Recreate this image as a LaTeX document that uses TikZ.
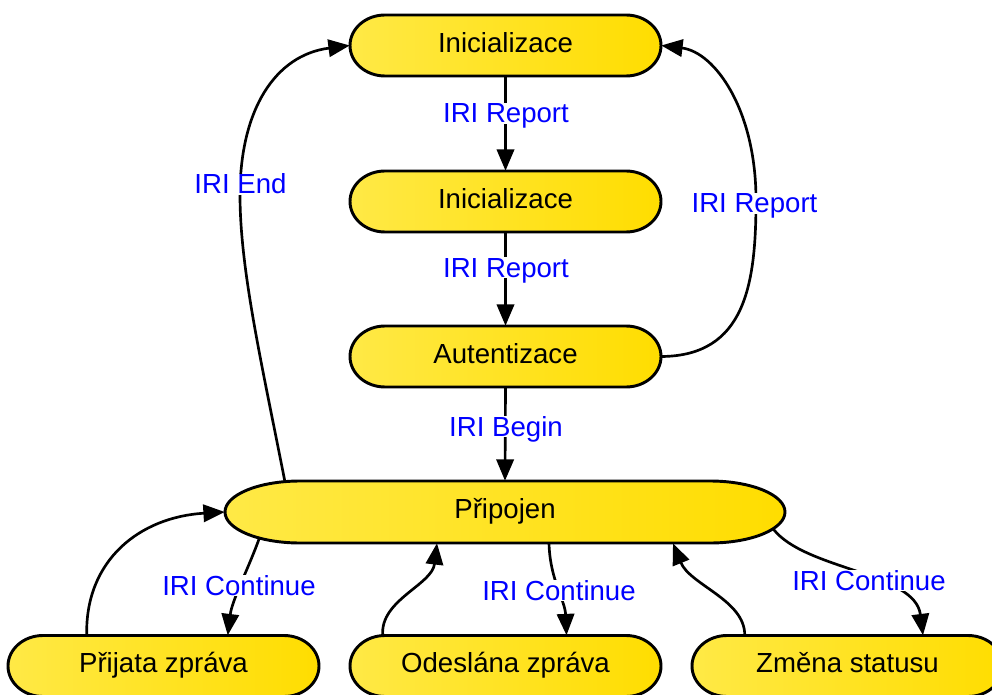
\documentclass[tikz,border=0pt]{standalone}
\usepackage{fontspec}
\setmainfont{Liberation Sans}
\usetikzlibrary{arrows.meta}

\definecolor{stateL}{RGB}{255,233,70}
\definecolor{stateR}{RGB}{255,221,0}
\definecolor{edgelabel}{RGB}{0,0,255}

\tikzset{
  statetext/.style={shape=rectangle, inner sep=0pt, text=black,
    font=\fontsize{20.7}{24}\selectfont, text height=14.8pt, text depth=5pt},
  labeltext/.style={shape=rectangle, inner xsep=0.5pt, inner ysep=0.4pt, fill=white,
    text=edgelabel, anchor=base,
    font=\fontsize{20.7}{24}\selectfont, text height=14.8pt, text depth=0pt},
  stateoutline/.style={draw=black, line width=2.2pt, left color=stateL, right color=stateR},
  flow/.style={draw=black, line width=2pt, -{Triangle[length=16pt,width=13pt]}},
}

% #1 name, #2 centre x, #3 centre y, #4 width, #5 height, #6 cap length, #7 text
\newcommand\statenode[7]{%
  \path[stateoutline]
    ({#2-#4/2+#6},{#3-#5/2}) -- ({#2+#4/2-#6},{#3-#5/2})
    .. controls ({#2+#4/2-#6+0.5523*#6},{#3-#5/2}) and ({#2+#4/2},{#3-0.5523*#5/2}) .. ({#2+#4/2},#3)
    .. controls ({#2+#4/2},{#3+0.5523*#5/2}) and ({#2+#4/2-#6+0.5523*#6},{#3+#5/2}) .. ({#2+#4/2-#6},{#3+#5/2})
    -- ({#2-#4/2+#6},{#3+#5/2})
    .. controls ({#2-#4/2+#6-0.5523*#6},{#3+#5/2}) and ({#2-#4/2},{#3+0.5523*#5/2}) .. ({#2-#4/2},#3)
    .. controls ({#2-#4/2},{#3-0.5523*#5/2}) and ({#2-#4/2+#6-0.5523*#6},{#3-#5/2}) .. cycle;
  \node[statetext, minimum width={#4*0.75pt}, minimum height={#5*0.75pt}] (#1) at (#2,#3) {#7};
}

\begin{document}
\begin{tikzpicture}[x=0.75pt, y=-0.75pt]
  \useasboundingbox (0,0) rectangle (992,695);
  \clip (0,0) rectangle (992,695);

  % states
  \statenode{init}{505.5}{45.5}{311}{61}{35}{Inicializace}
  \statenode{initb}{505.5}{201.5}{311}{61}{35}{Inicializace}
  \statenode{auth}{505.5}{356.5}{311}{61}{35}{Autentizace}
  \statenode{conn}{505}{512}{560}{62}{75}{Připojen}
  \statenode{recv}{163.5}{666}{311}{61}{35}{Přijata zpráva}
  \statenode{sent}{505.5}{666}{311}{61}{35}{Odeslána zpráva}
  \statenode{stat}{847.5}{666}{311}{61}{35}{Změna statusu}

  % transitions
  \draw[flow] (init.south) -- (initb.north);
  \draw[flow] (initb.south) -- (auth.north);
  \draw[flow] (auth.south) -- (conn.north);
  \draw[flow] (auth.east) .. controls (745,356) and (756,285) .. (756,200)
                          .. controls (756,110) and (715,52) .. (init.east);
  \draw[flow] ([shift={(60,0)}]conn.north west) .. controls (262,365) and (240,270) .. (240,195)
                          .. controls (240,110) and (275,55) .. (init.west);
  \draw[flow] ([shift={(79,0)}]recv.north west) .. controls (85,560) and (140,517) .. (conn.west);
  \draw[flow] ([shift={(35,25)}]conn.west) .. controls (250,565) and (232,600) .. ([shift={(220,0)}]recv.north west);
  \draw[flow] ([shift={(33,0)}]sent.north west) .. controls (380,600) and (432,585) .. ([shift={(-68,0)}]conn.south);
  \draw[flow] ([shift={(44,0)}]conn.south) .. controls (550,580) and (565,600) .. ([shift={(61,0)}]sent.north);
  \draw[flow] ([shift={(53,0)}]stat.north west) .. controls (745,600) and (690,585) .. ([shift={(168,0)}]conn.south);
  \draw[flow] ([shift={(-12,17)}]conn.east) .. controls (805,570) and (915,572) .. ([shift={(75.5,0)}]stat.north);

  % transition labels (placed by baseline)
  \node[labeltext] (l1) at (506,123) {IRI Report};
  \node[labeltext] (l2) at (506,277) {IRI Report};
  \node[labeltext] (l3) at (506,436) {IRI Begin};
  \node[labeltext] (l4) at (754.5,213) {IRI Report};
  \node[labeltext] (l5) at (240.5,194) {IRI End};
  \node[labeltext] (l6) at (239,595) {IRI Continue};
  \node[labeltext] (l7) at (559,600) {IRI Continue};
  \node[labeltext] (l8) at (869,590) {IRI Continue};
\end{tikzpicture}
\end{document}
